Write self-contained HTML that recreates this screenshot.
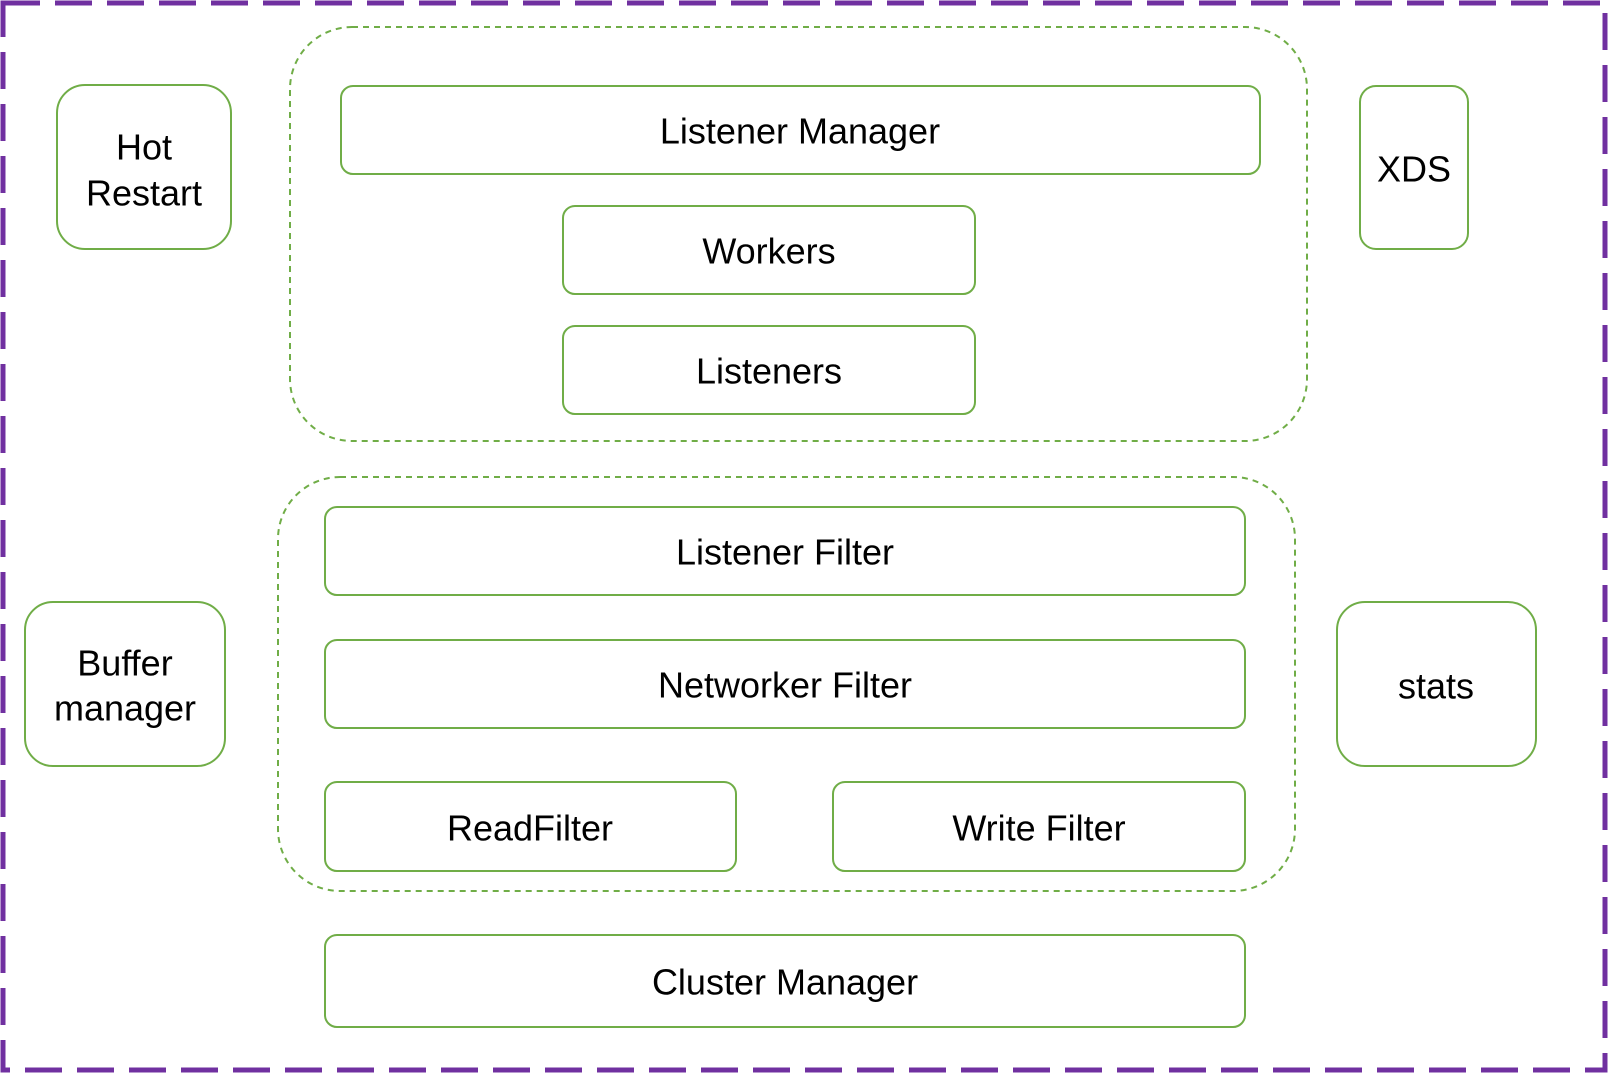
<!DOCTYPE html>
<html><head><meta charset="utf-8"><style>
html,body{margin:0;padding:0;background:#fff;}
svg{display:block;}
text{font-family:"Liberation Sans",sans-serif;font-size:36px;fill:#000;text-anchor:middle;dominant-baseline:central;}
</style></head><body>
<svg width="1608" height="1075" viewBox="0 0 1608 1075" xmlns="http://www.w3.org/2000/svg">
<rect x="3" y="3" width="1602" height="1067" fill="none" stroke="#7030a0" stroke-width="5" stroke-dasharray="37,15"/>
<g fill="none" stroke="#70ad47" stroke-width="2">
<rect x="290" y="27" width="1017" height="414" rx="62" stroke-dasharray="6,5"/>
<rect x="278" y="477" width="1017" height="414" rx="62" stroke-dasharray="6,5"/>
<rect x="341" y="86" width="919" height="88" rx="12"/>
<rect x="563" y="206" width="412" height="88" rx="12"/>
<rect x="563" y="326" width="412" height="88" rx="12"/>
<rect x="57" y="85" width="174" height="164" rx="28"/>
<rect x="1360" y="86" width="108" height="163" rx="16"/>
<rect x="325" y="507" width="920" height="88" rx="12"/>
<rect x="325" y="640" width="920" height="88" rx="12"/>
<rect x="325" y="782" width="411" height="89" rx="12"/>
<rect x="833" y="782" width="412" height="89" rx="12"/>
<rect x="325" y="935" width="920" height="92" rx="12"/>
<rect x="25" y="602" width="200" height="164" rx="28"/>
<rect x="1337" y="602" width="199" height="164" rx="28"/>
</g>
<text x="800" y="131">Listener Manager</text>
<text x="769" y="251">Workers</text>
<text x="769" y="371">Listeners</text>
<text x="144" y="147">Hot</text>
<text x="144" y="193">Restart</text>
<text x="1414" y="169">XDS</text>
<text x="785" y="552">Listener Filter</text>
<text x="785" y="685">Networker Filter</text>
<text x="530" y="828">ReadFilter</text>
<text x="1039" y="828">Write Filter</text>
<text x="785" y="982">Cluster Manager</text>
<text x="125" y="663">Buffer</text>
<text x="125" y="708">manager</text>
<text x="1436" y="686">stats</text>
</svg>
</body></html>
